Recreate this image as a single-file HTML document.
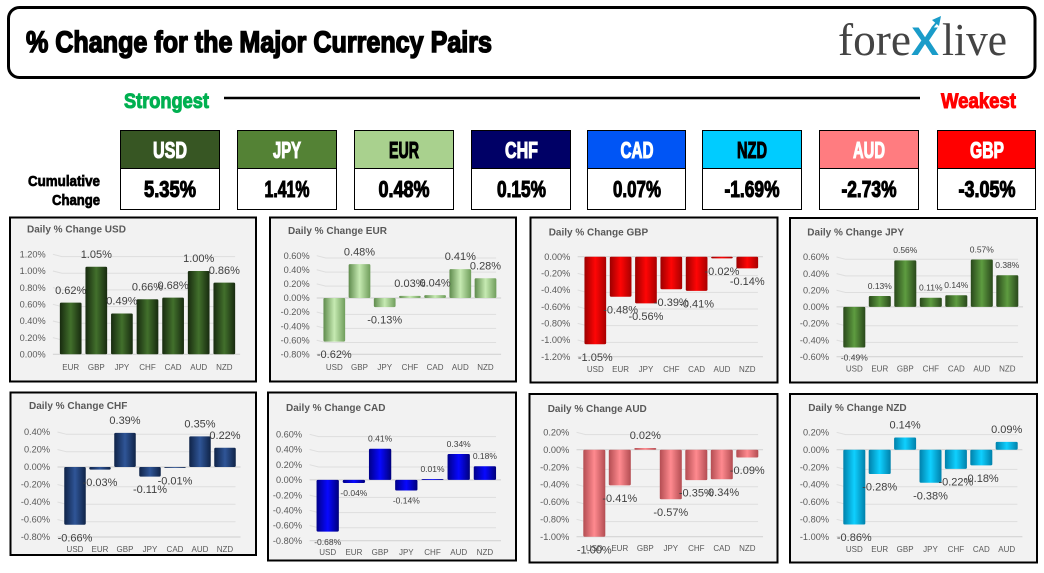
<!DOCTYPE html>
<html lang="en">
<head>
<meta charset="utf-8">
<title>% Change for the Major Currency Pairs</title>
<style>
html,body{margin:0;padding:0;background:#fff;width:1044px;height:573px;overflow:hidden}
svg{display:block;font-family:"Liberation Sans",sans-serif}
</style>
</head>
<body>
<svg id="board" width="1044" height="573" viewBox="0 0 1044 573" xmlns="http://www.w3.org/2000/svg">
  <defs id="defs"></defs>
  <rect width="1044" height="573" fill="#fff"/>
  <rect x="8.5" y="7.5" width="1026.5" height="70" rx="11" fill="#fff" stroke="#000" stroke-width="3"/>
  <text x="26" y="52" font-size="30" font-weight="700" fill="#000" stroke="#000" stroke-width="1.5" textLength="466" lengthAdjust="spacingAndGlyphs">% Change for the Major Currency Pairs</text>
  <g font-family="'Liberation Serif',serif" font-size="46" fill="#444">
    <text x="838" y="55" textLength="73" lengthAdjust="spacingAndGlyphs">fore</text>
    <text x="911" y="55" font-family="'Liberation Sans',sans-serif" font-size="40" font-weight="700" fill="#1a9cc9" textLength="28" lengthAdjust="spacingAndGlyphs">X</text>
    <line x1="932" y1="28" x2="938" y2="21" stroke="#1a9cc9" stroke-width="2"/>
    <polygon points="932,20 941,16 939,26" fill="#1a9cc9"/>
    <text x="942" y="55" textLength="65" lengthAdjust="spacingAndGlyphs">live</text>
  </g>

  <text x="124" y="108" font-size="21" font-weight="700" fill="#00b050" stroke="#00b050" stroke-width="1" textLength="85" lengthAdjust="spacingAndGlyphs">Strongest</text>
  <line x1="224" y1="98" x2="920" y2="98" stroke="#000" stroke-width="2.6"/>
  <text x="941" y="108" font-size="21" font-weight="700" fill="#ff0000" stroke="#ff0000" stroke-width="1" textLength="75" lengthAdjust="spacingAndGlyphs">Weakest</text>

  <text x="28" y="186" font-size="14.5" font-weight="700" fill="#000" stroke="#000" stroke-width="0.7" textLength="72" lengthAdjust="spacingAndGlyphs">Cumulative</text>
  <text x="52" y="205" font-size="14.5" font-weight="700" fill="#000" stroke="#000" stroke-width="0.7" textLength="48" lengthAdjust="spacingAndGlyphs">Change</text>

  <g font-weight="700" font-size="23" text-anchor="middle">
    <rect x="120.5" y="130.5" width="99" height="38" fill="#375623" stroke="#000"/>
    <rect x="120.5" y="168.5" width="99" height="41" fill="#fff" stroke="#000"/>
    <text x="170" y="158" fill="#fff" stroke="#fff" stroke-width="1.1" textLength="34" lengthAdjust="spacingAndGlyphs">USD</text>
    <text x="170" y="197" fill="#000" stroke="#000" stroke-width="1.1" textLength="52" lengthAdjust="spacingAndGlyphs">5.35%</text>
  </g>
  <g font-weight="700" font-size="23" text-anchor="middle">
    <rect x="237.5" y="130.5" width="99" height="38" fill="#548235" stroke="#000"/>
    <rect x="237.5" y="168.5" width="99" height="41" fill="#fff" stroke="#000"/>
    <text x="287" y="158" fill="#fff" stroke="#fff" stroke-width="1.1" textLength="28" lengthAdjust="spacingAndGlyphs">JPY</text>
    <text x="287" y="197" fill="#000" stroke="#000" stroke-width="1.1" textLength="45" lengthAdjust="spacingAndGlyphs">1.41%</text>
  </g>
  <g font-weight="700" font-size="23" text-anchor="middle">
    <rect x="354.5" y="130.5" width="99" height="38" fill="#a9d18e" stroke="#000"/>
    <rect x="354.5" y="168.5" width="99" height="41" fill="#fff" stroke="#000"/>
    <text x="404" y="158" fill="#000" stroke="#000" stroke-width="1.1" textLength="30" lengthAdjust="spacingAndGlyphs">EUR</text>
    <text x="404" y="197" fill="#000" stroke="#000" stroke-width="1.1" textLength="51" lengthAdjust="spacingAndGlyphs">0.48%</text>
  </g>
  <g font-weight="700" font-size="23" text-anchor="middle">
    <rect x="471.5" y="130.5" width="99" height="38" fill="#000066" stroke="#000"/>
    <rect x="471.5" y="168.5" width="99" height="41" fill="#fff" stroke="#000"/>
    <text x="521.5" y="158" fill="#fff" stroke="#fff" stroke-width="1.1" textLength="33" lengthAdjust="spacingAndGlyphs">CHF</text>
    <text x="521.5" y="197" fill="#000" stroke="#000" stroke-width="1.1" textLength="49" lengthAdjust="spacingAndGlyphs">0.15%</text>
  </g>
  <g font-weight="700" font-size="23" text-anchor="middle">
    <rect x="587.5" y="130.5" width="98" height="38" fill="#0055f5" stroke="#000"/>
    <rect x="587.5" y="168.5" width="98" height="41" fill="#fff" stroke="#000"/>
    <text x="637" y="158" fill="#fff" stroke="#fff" stroke-width="1.1" textLength="33" lengthAdjust="spacingAndGlyphs">CAD</text>
    <text x="637" y="197" fill="#000" stroke="#000" stroke-width="1.1" textLength="48" lengthAdjust="spacingAndGlyphs">0.07%</text>
  </g>
  <g font-weight="700" font-size="23" text-anchor="middle">
    <rect x="702.5" y="130.5" width="99" height="38" fill="#00ccff" stroke="#000"/>
    <rect x="702.5" y="168.5" width="99" height="41" fill="#fff" stroke="#000"/>
    <text x="752" y="158" fill="#000" stroke="#000" stroke-width="1.1" textLength="30" lengthAdjust="spacingAndGlyphs">NZD</text>
    <text x="752" y="197" fill="#000" stroke="#000" stroke-width="1.1" textLength="55" lengthAdjust="spacingAndGlyphs">-1.69%</text>
  </g>
  <g font-weight="700" font-size="23" text-anchor="middle">
    <rect x="819.5" y="130.5" width="99" height="38" fill="#ff7c80" stroke="#000"/>
    <rect x="819.5" y="168.5" width="99" height="41" fill="#fff" stroke="#000"/>
    <text x="869" y="158" fill="#fff" stroke="#fff" stroke-width="1.1" textLength="32" lengthAdjust="spacingAndGlyphs">AUD</text>
    <text x="869" y="197" fill="#000" stroke="#000" stroke-width="1.1" textLength="55" lengthAdjust="spacingAndGlyphs">-2.73%</text>
  </g>
  <g font-weight="700" font-size="23" text-anchor="middle">
    <rect x="937.5" y="130.5" width="98" height="38" fill="#ff0000" stroke="#000"/>
    <rect x="937.5" y="168.5" width="98" height="41" fill="#fff" stroke="#000"/>
    <text x="987" y="158" fill="#fff" stroke="#fff" stroke-width="1.1" textLength="34" lengthAdjust="spacingAndGlyphs">GBP</text>
    <text x="987" y="197" fill="#000" stroke="#000" stroke-width="1.1" textLength="57" lengthAdjust="spacingAndGlyphs">-3.05%</text>
  </g>
  <g id="charts"></g>
</svg>
<script>
// Chart data
const usdCategories = ['EUR','GBP','JPY','CHF','CAD','AUD','NZD'];
const usdValues = [0.62,1.05,0.49,0.66,0.68,1.00,0.86];
const usdTicks = [1.2,1.0,0.8,0.6,0.4,0.2,0];

const eurCategories = ['USD','GBP','JPY','CHF','CAD','AUD','NZD'];
const eurValues = [-0.62,0.48,-0.13,0.03,0.04,0.41,0.28];
const eurTicks = [0.6,0.4,0.2,0,-0.2,-0.4,-0.6,-0.8];

const gbpCategories = ['USD','EUR','JPY','CHF','CAD','AUD','NZD'];
const gbpValues = [-1.05,-0.48,-0.56,-0.39,-0.41,-0.02,-0.14];
const gbpTicks = [0,-0.2,-0.4,-0.6,-0.8,-1.0,-1.2];

const jpyCategories = ['USD','EUR','GBP','CHF','CAD','AUD','NZD'];
const jpyValues = [-0.49,0.13,0.56,0.11,0.14,0.57,0.38];
const jpyTicks = [0.6,0.4,0.2,0,-0.2,-0.4,-0.6];

const chfCategories = ['USD','EUR','GBP','JPY','CAD','AUD','NZD'];
const chfValues = [-0.66,-0.03,0.39,-0.11,-0.01,0.35,0.22];
const chfTicks = [0.4,0.2,0,-0.2,-0.4,-0.6,-0.8];

const cadCategories = ['USD','EUR','GBP','JPY','CHF','AUD','NZD'];
const cadValues = [-0.68,-0.04,0.41,-0.14,0.01,0.34,0.18];
const cadTicks = [0.6,0.4,0.2,0,-0.2,-0.4,-0.6,-0.8];

const audCategories = ['USD','EUR','GBP','JPY','CHF','CAD','NZD'];
const audValues = [-1.00,-0.41,0.02,-0.57,-0.35,-0.34,-0.09];
const audTicks = [0.2,0,-0.2,-0.4,-0.6,-0.8,-1.0];

const nzdCategories = ['USD','EUR','GBP','JPY','CHF','CAD','AUD'];
const nzdValues = [-0.86,-0.28,0.14,-0.38,-0.22,-0.18,0.09];
const nzdTicks = [0.2,0,-0.2,-0.4,-0.6,-0.8,-1.0];

const SVG_NS = 'http://www.w3.org/2000/svg';
function make(tag, attrs, parent){
  const el = document.createElementNS(SVG_NS, tag);
  for (const k in attrs) el.setAttribute(k, attrs[k]);
  if (parent) parent.appendChild(el);
  return el;
}
function pct(v){ return v.toFixed(2) + '%'; }

function addGradient(id, edgeL, mid, edgeR){
  const grad = make('linearGradient', {id:id, x1:0, y1:0, x2:1, y2:0}, document.getElementById('defs'));
  make('stop', {offset:'0%', 'stop-color':edgeL}, grad);
  make('stop', {offset:'50%', 'stop-color':mid}, grad);
  make('stop', {offset:'100%', 'stop-color':edgeR}, grad);
}

function drawChart(c){
  const root = document.getElementById('charts');
  const g = make('g', {}, root);
  
  

  const gradId = 'bar-grad-' + c.key;
  addGradient(gradId, c.edgeL, c.mid, c.edgeR);

  const frame = make('rect', {x:c.x, y:c.y, width:c.w, height:c.h, fill:'#f2f2f2', stroke:'#000', 'stroke-width':2}, g);
  
  

  const title = make('text', {x:c.titleX, y:c.titleY + 3.5, 'font-size':10, 'font-weight':700, fill:'#595959'}, g);
  title.textContent = 'Daily % Change ' + c.key.toUpperCase();
  
  

  const tickMax = c.ticks[0];
  const tickMin = c.ticks[c.ticks.length - 1];
  const yScale = v => c.topY + (tickMax - v) / (tickMax - tickMin) * (c.botY - c.topY);
  const xScale = i => c.firstX + i * c.band;
  const left = xScale(0) - c.band / 2;
  const right = xScale(c.categories.length - 1) + c.band / 2;

  c.ticks.forEach(t => {
    const y = yScale(t);
    const isBase = t === 0 || t === tickMin;
    const points = isBase
      ? (left - 5) + ',' + y + ' ' + (right + 3) + ',' + y
      : (left - 5) + ',' + y + ' ' + (left + 4) + ',' + (y + 2.3) + ' ' + (right - 2) + ',' + (y + 2.3);
    const grid = make('polyline', {points:points, fill:'none', stroke:isBase ? '#cfcfcf' : '#dedede', 'stroke-width':1}, g);
    
    

    const label = make('text', {x:c.tickRight, y:y + 3.2, 'font-size':9.2, 'text-anchor':'end', fill:'#595959'}, g);
    label.textContent = pct(t);
    
    
  });

  c.values.forEach((v, i) => {
    const cx = xScale(i);
    const y0 = yScale(0);
    const yv = yScale(v);
    const bar = make('rect', {x:cx - c.barW / 2, y:Math.min(y0, yv), width:c.barW, height:Math.max(Math.abs(yv - y0), 0.8), rx:1.2, fill:'url(#' + gradId + ')'}, g);
    
    
  });

  c.categories.forEach((cat, i) => {
    const label = make('text', {x:xScale(i), y:c.catY + 2.9, 'font-size':8, 'text-anchor':'middle', fill:'#595959'}, g);
    label.textContent = cat;
    
    
  });

  c.values.forEach((v, i) => {
    const off = c.labelSize > 10 ? 12.7 : 10.2;
    const yv = yScale(v) + (v < 0 ? off : -off);
    const label = make('text', {x:xScale(i), y:yv + c.labelSize * 0.35, 'font-size':c.labelSize, 'text-anchor':'middle', fill:'#404040'}, g);
    label.textContent = pct(v);
    
    
  });
}

drawChart({key:'usd', categories:usdCategories, values:usdValues, ticks:usdTicks,
  x:10, y:217.5, w:246, h:164, topY:254.3, botY:354.3, firstX:70.7, band:25.6, barW:21.7,
  titleX:27, titleY:229, catY:367, tickRight:45.7, labelSize:11, edgeL:'#172a0f', mid:'#42702c', edgeR:'#172a0f'});
drawChart({key:'eur', categories:eurCategories, values:eurValues, ticks:eurTicks,
  x:270, y:217.5, w:246, h:164, topY:255.7, botY:354.3, firstX:334.3, band:25.2, barW:21.7,
  titleX:288, titleY:230.7, catY:367, tickRight:309.7, labelSize:11, edgeL:'#5f8b4d', mid:'#c6eab2', edgeR:'#6f9d5b'});
drawChart({key:'gbp', categories:gbpCategories, values:gbpValues, ticks:gbpTicks,
  x:530.5, y:217.5, w:247, h:165, topY:256.7, botY:356.7, firstX:595.3, band:25.33, barW:21.7,
  titleX:548.7, titleY:232, catY:369, tickRight:570.3, labelSize:11, edgeL:'#9c0000', mid:'#ff0505', edgeR:'#a80000'});
drawChart({key:'jpy', categories:jpyCategories, values:jpyValues, ticks:jpyTicks,
  x:790, y:218, w:247, h:164.5, topY:257, botY:356.7, firstX:854.3, band:25.5, barW:22,
  titleX:807.3, titleY:232, catY:368.7, tickRight:829, labelSize:8.5, edgeL:'#29481b', mid:'#5e9c40', edgeR:'#29481b'});
drawChart({key:'chf', categories:chfCategories, values:chfValues, ticks:chfTicks,
  x:10.5, y:392.5, w:245.5, h:162.5, topY:432, botY:537, firstX:75, band:25, barW:21.5,
  titleX:29, titleY:405.7, catY:549, tickRight:50, labelSize:11, edgeL:'#0f2347', mid:'#2f5597', edgeR:'#0f2347'});
drawChart({key:'cad', categories:cadCategories, values:cadValues, ticks:cadTicks,
  x:268, y:392.5, w:248, h:168, topY:434.3, botY:540.7, firstX:327.7, band:26.2, barW:22.3,
  titleX:286, titleY:407.3, catY:552.3, tickRight:302, labelSize:8.5, edgeL:'#000088', mid:'#0808ff', edgeR:'#00007a'});
drawChart({key:'aud', categories:audCategories, values:audValues, ticks:audTicks,
  x:529.5, y:394, w:248, h:168.5, topY:432.3, botY:536.7, firstX:594.3, band:25.5, barW:22,
  titleX:547.7, titleY:408.3, catY:548.3, tickRight:569.3, labelSize:11, edgeL:'#b34d52', mid:'#ff8a8f', edgeR:'#b34d52'});
drawChart({key:'nzd', categories:nzdCategories, values:nzdValues, ticks:nzdTicks,
  x:790, y:394, w:247, h:168.5, topY:432.3, botY:536.7, firstX:854.3, band:25.4, barW:22,
  titleX:808.3, titleY:407.3, catY:549, tickRight:829, labelSize:11, edgeL:'#0080aa', mid:'#0fd0ff', edgeR:'#0080aa'});
</script>
</body>
</html>
